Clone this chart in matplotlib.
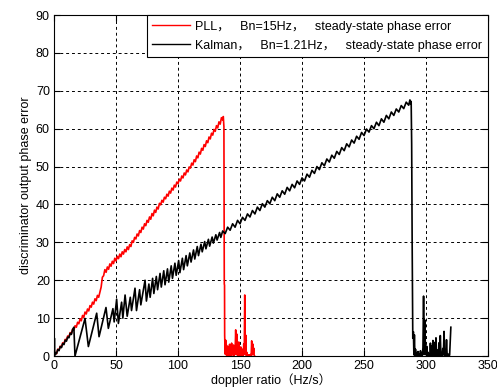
import matplotlib
matplotlib.use('Agg')
import matplotlib.pyplot as plt

# PLL, Bn=15Hz (red) - rising part, one point per Hz/s
pll_x = [0, 1, 2, 3, 4, 5, 6, 7, 8, 9, 10, 11, 12, 13, 14, 15, 16, 17, 18, 19,
         20, 21, 22, 23, 24, 25, 26, 27, 28, 29, 30, 31, 32, 33, 34, 35, 36, 37, 38, 39,
         40, 41, 42, 43, 44, 45, 46, 47, 48, 49, 50, 51, 52, 53, 54, 55, 56, 57, 58, 59,
         60, 61, 62, 63, 64, 65, 66, 67, 68, 69, 70, 71, 72, 73, 74, 75, 76, 77, 78, 79,
         80, 81, 82, 83, 84, 85, 86, 87, 88, 89, 90, 91, 92, 93, 94, 95, 96, 97, 98, 99,
         100, 101, 102, 103, 104, 105, 106, 107, 108, 109, 110, 111, 112, 113, 114, 115, 116, 117, 118, 119,
         120, 121, 122, 123, 124, 125, 126, 127, 128, 129, 130, 131, 132, 133, 134, 135, 136,
         136.5, 137.0, 137.3, 137.5]
pll_y = [0.2, 0.9, 0.6, 1.8, 1.5, 2.6, 2.4, 3.5, 3.2, 4.4, 4.2, 5.3, 5.0, 6.2, 5.9, 7.1, 6.8, 8.0, 7.6, 8.9,
         8.5, 9.8, 9.3, 10.7, 10.2, 11.6, 11.1, 12.4, 11.9, 13.3, 12.9, 14.2, 13.7, 15.1, 14.6, 16.0, 15.5, 16.9, 18.2, 20.8,
         21.2, 22.8, 22.1, 23.5, 22.9, 24.3, 23.7, 25.0, 24.4, 25.8, 25.1, 26.3, 25.7, 26.9, 26.2, 27.5, 26.9, 28.1, 27.5, 28.8,
         28.1, 29.4, 28.9, 30.4, 30.0, 31.3, 30.9, 32.2, 31.7, 33.1, 32.6, 34.0, 33.5, 34.9, 34.4, 35.8, 35.3, 36.7, 36.1, 37.6,
         37.0, 38.5, 37.9, 39.3, 38.8, 40.3, 39.9, 41.1, 40.6, 41.9, 41.5, 42.7, 42.2, 43.5, 43.0, 44.3, 43.8, 45.1, 44.6, 45.9,
         45.5, 46.7, 46.2, 47.5, 47.0, 48.3, 47.8, 49.1, 48.6, 49.9, 49.6, 50.9, 50.4, 51.8, 51.3, 52.8, 52.3, 53.8, 53.3, 54.8,
         54.3, 55.8, 55.3, 56.8, 56.3, 57.8, 57.3, 58.8, 58.3, 59.8, 59.3, 60.8, 60.2, 61.8, 61.2, 62.9, 62.3,
         63.2, 60.5, 19.0, 18.7]
# PLL after loss of lock
pll_tail_x = [137.6, 138.0, 138.4, 138.8, 139.2, 139.6, 140.0, 140.4, 140.8, 141.2, 141.6, 142.0, 142.4, 142.8,
              143.2, 143.6, 144.0, 144.4, 144.8, 145.2, 145.6, 146.0, 146.5, 147.0, 147.4, 147.8, 148.2, 148.6,
              149.0, 149.4, 149.8, 150.2, 150.6, 151.0, 151.4, 151.8, 152.2, 152.6, 153.0, 153.4, 153.8, 154.2,
              154.6, 155.0, 155.4, 155.8, 156.2, 156.6, 157.0, 157.4, 157.8, 158.2, 158.6, 159.0, 159.4, 159.8,
              160.2, 160.6, 161.0, 161.4, 161.8]
pll_tail_y = [5.5, 0.5, 4.2, 0.3, 2.8, 0.2, 1.6, 0.4, 2.5, 0.1, 3.1, 0.3, 2.2, 0.2, 3.4, 0.5, 1.9, 0.2, 2.9, 0.1,
              2.0, 0.6, 6.9, 0.4, 5.8, 0.3, 2.6, 0.2, 3.7, 0.1, 1.2, 0.3, 2.4, 0.2, 0.9, 0.1, 1.8, 0.2, 3.2, 0.5,
              16.1, 0.4, 5.5, 0.2, 1.0, 0.1, 0.2, 0.1, 0.3, 0.1, 0.2, 0.1, 0.4, 0.2, 4.0, 0.3, 3.2, 0.5, 2.1, 0.2,
              0.0]

# Kalman, Bn=1.21Hz (black) - start and sawtooth region
kal_x = [0.0, 0.3, 0.6, 1, 2, 3, 4, 5, 6, 7, 8, 9, 10, 11, 12, 13, 14, 15, 16, 16.9,
         25.0, 27.7, 34.4, 36.3, 41.9, 43.8, 47.5, 48.5, 50.5, 51.9, 54.5, 55.5, 57.3, 59.0,
         61.5, 62.5, 65.3, 66.5, 69.0, 70.0, 73.4, 74.5, 76.5, 77.5, 79.5, 80.5, 82.5, 83.5,
         85.5, 86.5, 88.5, 89.5, 91.5, 92.5, 94.5, 95.5, 97.5, 98.5, 100.5, 101.5, 103.5, 104.5,
         106.5, 107.5, 109.5, 110.5, 112.5, 113.5, 115.5, 116.5, 118.5, 119.5, 121.5, 122.5,
         124.5, 125.5, 127.5, 128.5, 130.5, 131.5, 133.5, 134.5]
kal_y = [0.0, 4.7, 0.2, 0.9, 0.6, 1.7, 1.4, 2.5, 2.2, 3.3, 3.0, 4.2, 3.9, 5.0, 4.8, 6.0, 5.7, 7.0, 7.6, 0.0,
         9.9, 2.5, 11.3, 5.1, 12.8, 7.3, 12.5, 9.0, 15.0, 8.6, 14.2, 10.0, 16.1, 10.5,
         15.5, 12.0, 17.9, 12.0, 17.5, 13.5, 20.0, 14.5, 19.0, 15.5, 20.5, 16.5, 21.0, 17.5,
         21.8, 18.2, 22.5, 18.8, 23.0, 19.5, 23.8, 20.5, 24.5, 21.3, 25.2, 22.0, 25.8, 22.8,
         26.5, 23.8, 27.2, 24.8, 28.0, 25.6, 28.9, 26.5, 29.5, 27.5, 30.2, 28.3,
         30.8, 29.0, 31.4, 29.8, 32.0, 30.6, 32.6, 31.3]
# Kalman - steady ramp up to loss of lock
kal_ramp_x = [136, 138, 140, 142, 144, 146, 148, 150, 152, 154, 156, 158, 160, 162, 164, 166, 168, 170,
              172, 174, 176, 178, 180, 182, 184, 186, 188, 190, 192, 194, 196, 198, 200, 202, 204, 206,
              208, 210, 212, 214, 216, 218, 220, 222, 224, 226, 228, 230, 232, 234, 236, 238, 240, 242,
              244, 246, 248, 250, 252, 254, 256, 258, 260, 262, 264, 266, 268, 270, 272, 274, 276, 278,
              280, 282, 284, 286, 287.0, 287.5, 288.0]
kal_ramp_y = [33.0, 32.3, 34.0, 33.2, 34.9, 34.0, 35.8, 34.9, 36.6, 35.8, 37.5, 36.7, 38.4, 37.5, 39.3, 38.4, 40.2, 39.3,
              41.0, 40.2, 41.9, 41.0, 42.8, 41.9, 43.6, 42.7, 44.5, 43.6, 45.3, 44.4, 46.2, 45.3, 47.0, 46.2, 48.0, 47.2,
              49.0, 48.2, 50.0, 49.2, 51.0, 50.2, 52.0, 51.2, 53.0, 52.2, 54.0, 53.2, 55.0, 54.2, 56.0, 55.2, 57.0, 56.2,
              58.0, 57.2, 59.0, 58.2, 59.9, 59.1, 60.8, 60.0, 61.7, 60.8, 62.6, 61.7, 63.5, 62.6, 64.4, 63.5, 65.2, 64.4,
              66.1, 65.3, 67.0, 66.2, 67.6, 66.5, 67.2]
# Kalman after loss of lock
kal_tail_x = [288.4, 288.8, 289.3, 289.8, 290.2, 290.6, 291.0, 291.5, 292.0, 292.5, 293.0, 293.5, 294.0, 294.5,
              295.0, 295.5, 296.0, 296.5, 297.0, 297.5, 298.0, 298.5, 299.0, 299.5, 300.0, 300.5, 301.0, 301.5,
              302.0, 302.5, 303.0, 303.5, 304.0, 304.5, 305.0, 305.5, 306.0, 306.5, 307.0, 307.5, 308.0, 308.5,
              309.0, 309.5, 310.0, 310.5, 311.0, 311.5, 312.0, 312.5, 313.0, 313.5, 314.0, 314.5, 315.0, 315.5,
              316.0, 316.5, 317.0, 317.5, 318.0, 318.5, 319.0, 319.5, 320.0]
kal_tail_y = [56.0, 30.0, 4.7, 6.4, 0.3, 5.6, 0.2, 1.8, 0.1, 0.9, 0.0, 1.2, 0.1, 0.6,
              0.0, 1.4, 0.2, 0.8, 0.1, 2.2, 15.8, 0.4, 9.5, 1.8, 0.3, 2.6, 0.1, 1.0, 0.0, 0.5,
              0.1, 3.4, 0.2, 2.6, 0.1, 4.1, 0.3, 0.2, 3.6, 0.1, 4.8, 0.2, 0.1, 1.6,
              0.2, 3.5, 0.1, 5.4, 0.2, 0.6, 0.1, 2.0, 0.3, 6.5, 0.2, 1.1, 0.1, 4.3, 0.3, 0.2,
              0.5, 0.1, 0.2, 3.8, 7.6]

pll_label = 'PLL，   Bn=15Hz，   steady-state phase error'
kal_label = 'Kalman，   Bn=1.21Hz，   steady-state phase error'
x_ticks = [0, 50, 100, 150, 200, 250, 300, 350]
y_ticks = [0, 10, 20, 30, 40, 50, 60, 70, 80, 90]

plt.rcParams['font.family'] = ['Liberation Sans', 'Noto Sans CJK SC', 'DejaVu Sans']
plt.rcParams['font.size'] = 9

fig = plt.figure(figsize=(4.97, 3.92), dpi=100)
ax = fig.add_axes([0.1087, 0.0918, 0.8733, 0.8699])

ax.plot(pll_x + pll_tail_x, pll_y + pll_tail_y, color='red', lw=1.2, label=pll_label)
ax.plot(kal_x + kal_ramp_x + kal_tail_x, kal_y + kal_ramp_y + kal_tail_y, color='black', lw=1.2, label=kal_label)

ax.set_xlim(0, 350)
ax.set_ylim(0, 90)
ax.set_xticks(x_ticks)
ax.set_yticks(y_ticks)
ax.tick_params(direction='in', length=4, width=0.8, top=True, right=True, labelsize=9, pad=3)
ax.grid(True, color='black', linestyle=(0, (3, 3)), linewidth=0.7)
for s in ax.spines.values():
    s.set_linewidth(0.8)

ax.set_xlabel('doppler ratio（Hz/s）', fontsize=9, labelpad=1)
ax.set_ylabel('discriminator output phase error', fontsize=9, labelpad=3)

leg = ax.legend(loc='upper right', borderaxespad=0, fancybox=False, framealpha=1,
                edgecolor='black', fontsize=9.0, handlelength=3.0, handletextpad=0.45,
                labelspacing=0.55, borderpad=0.45)
leg.get_frame().set_linewidth(0.8)
for line in leg.get_lines():
    line.set_linewidth(1.0)

fig.savefig('out.png', dpi=100)
